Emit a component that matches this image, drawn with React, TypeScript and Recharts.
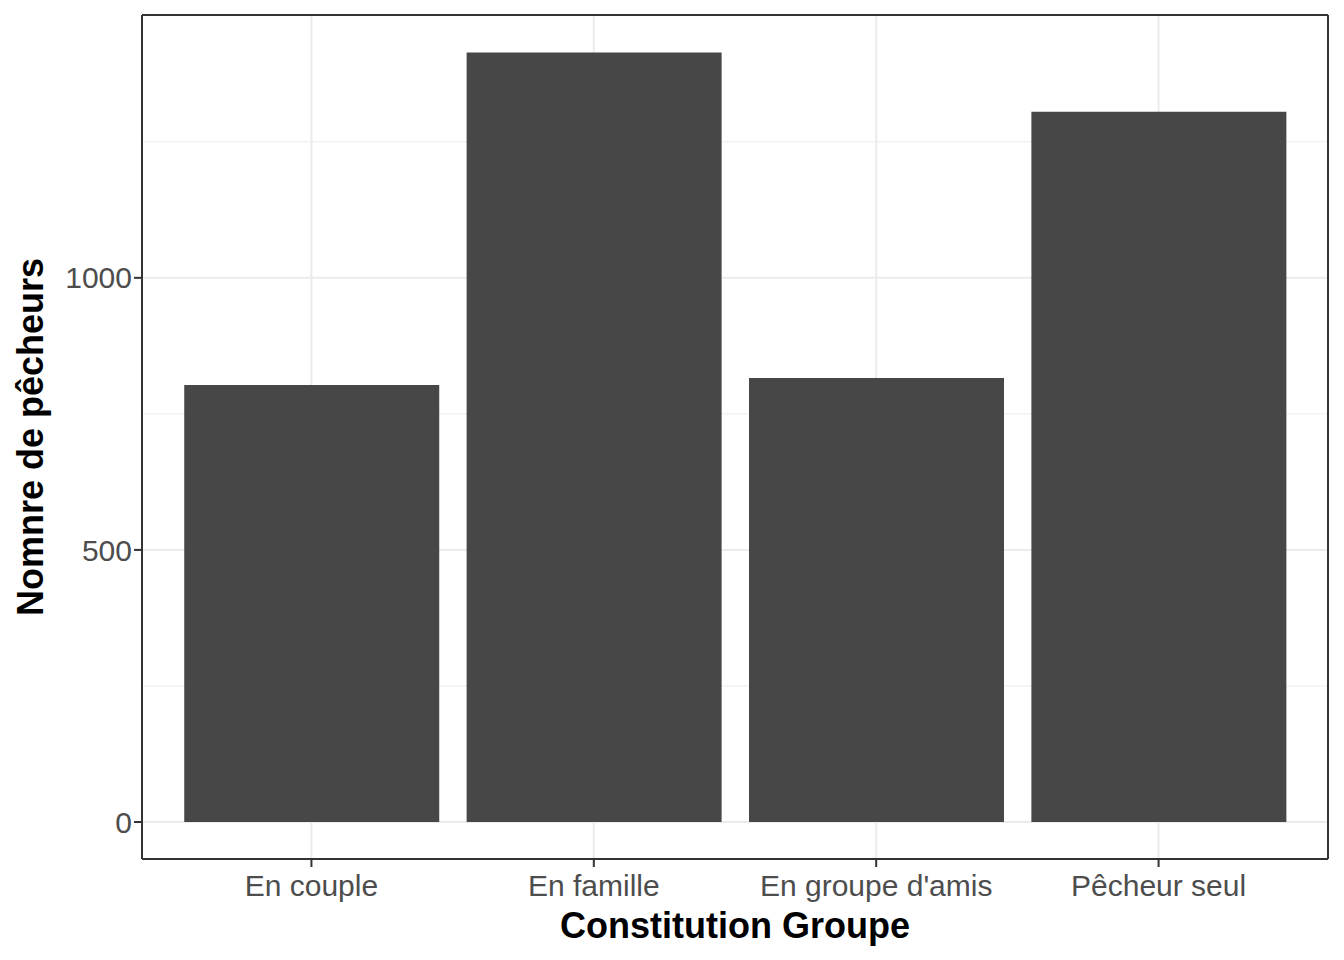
import React from "react";
import { ComposedChart, Bar, XAxis, YAxis, CartesianGrid, ReferenceLine, Label } from "recharts";

const categories = ["En couple", "En famille", "En groupe d'amis", "Pêcheur seul"];
const counts = [803, 1414, 816, 1305];
const yTicks = [0, 500, 1000];
const minorTicks = [250, 750, 1250];
const data = categories.map((c, i) => ({ x: i + 1, name: c, n: counts[i] }));
const font = "Liberation Sans, Arial, sans-serif";

export default function App() {
  return (
    <div style={{ position: "absolute", left: 0, top: 0, background: "#fff" }}>
      <ComposedChart width={1344} height={960} data={data} margin={{ top: 15, right: 16, bottom: 0, left: 0 }}>
        <CartesianGrid stroke="#ebebeb" strokeWidth={1} horizontalValues={minorTicks} vertical={false} />
        <CartesianGrid stroke="#ebebeb" strokeWidth={2} horizontalValues={yTicks} verticalValues={[1, 2, 3, 4]} />
        <XAxis type="number" dataKey="x" domain={[0.4, 4.6]} ticks={[1, 2, 3, 4]} allowDataOverflow
          tickFormatter={(v: number) => categories[v - 1]} height={101}
          tick={{ fill: "#4d4d4d", fontSize: 30, fontFamily: font, dy: 6 }}
          tickLine={{ stroke: "#333", strokeWidth: 2 }} tickSize={8} axisLine={false}>
          <Label value="Constitution Groupe" position="insideBottom" offset={22}
            style={{ fontSize: 36, fontWeight: "bold", fill: "#000", fontFamily: font }} />
        </XAxis>
        <YAxis type="number" domain={[-68, 1483]} ticks={yTicks} allowDataOverflow width={142}
          tick={{ fill: "#4d4d4d", fontSize: 30, fontFamily: font }}
          tickLine={{ stroke: "#333", strokeWidth: 2 }} tickSize={8} axisLine={false}>
          <Label value="Nomnre de pêcheurs" angle={-90} position="insideLeft" offset={30}
            style={{ textAnchor: "middle", fontSize: 36, fontWeight: "bold", fill: "#000", fontFamily: font }} />
        </YAxis>
        <Bar dataKey="n" fill="#474747" barSize={255} isAnimationActive={false} />
        <ReferenceLine segment={[{ x: 0.4, y: -68 }, { x: 4.6, y: -68 }]} stroke="#333" strokeWidth={2} />
        <ReferenceLine segment={[{ x: 0.4, y: 1483 }, { x: 4.6, y: 1483 }]} stroke="#333" strokeWidth={2} />
        <ReferenceLine segment={[{ x: 0.4, y: -68 }, { x: 0.4, y: 1483 }]} stroke="#333" strokeWidth={2} />
        <ReferenceLine segment={[{ x: 4.6, y: -68 }, { x: 4.6, y: 1483 }]} stroke="#333" strokeWidth={2} />
      </ComposedChart>
    </div>
  );
}
